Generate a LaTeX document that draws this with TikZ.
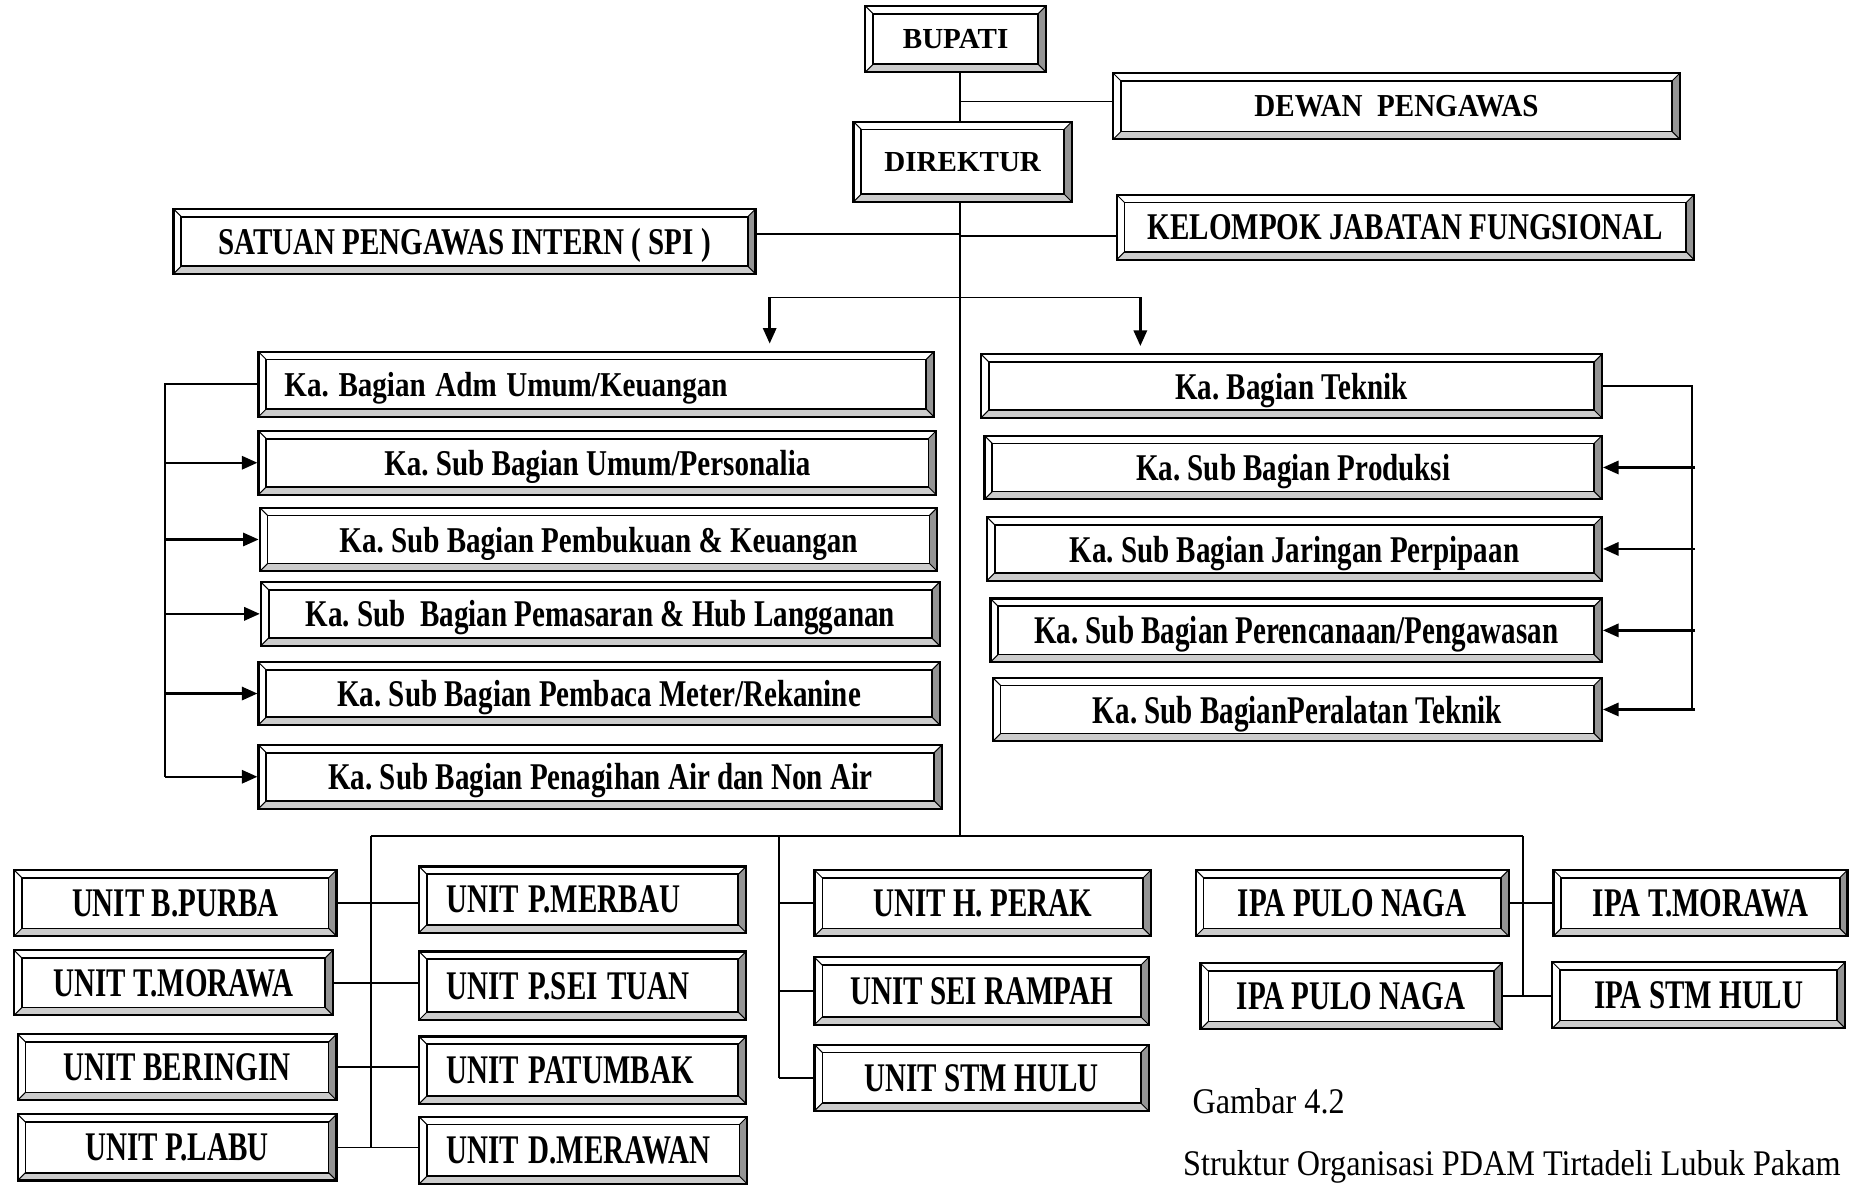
\documentclass[tikz,border=0pt]{standalone}
\usepackage{fontspec}
\usepackage{graphicx}
\setmainfont{Liberation Serif}
\usetikzlibrary{arrows.meta,calc}
\frenchspacing

\definecolor{bevR}{gray}{0.58}
\definecolor{bevB}{gray}{0.80}
\newcommand\boxfont{\fontsize{17.5}{20}\selectfont\bfseries}
\newcommand\capfont{\fontsize{19.4}{22}\selectfont}
\newcommand\bev{0.165cm}
% vertically stretched label text
\newcommand\vs[2][1.3]{\scalebox{1}[#1]{#2}}

% bevelled box given by its corners (x1,y1)-(x2,y2)
\newcommand\bx[7][]{%
  \pgfmathsetmacro\bxw{(#5-#3)*0.025}%
  \pgfmathsetmacro\bxh{(#6-#4)*0.025}%
  \node[bevelbox, minimum width=\bxw cm, minimum height=\bxh cm, #1]
    (#2) at ({(#3+#5)/2},{(#4+#6)/2}) {#7};}
% same, with left-aligned text set in by a lead
\newcommand\bxl[7]{%
  \pgfmathsetmacro\bxh{(#5-#3)*0.025}%
  \pgfmathsetmacro\bxtw{(#4-#2-2*#6)*0.025}%
  \pgfmathsetmacro\bxs{#6*0.025}%
  \node[bevelbox, minimum height=\bxh cm, text width=\bxtw cm,
        inner xsep=\bxs cm, align=left]
    (#1) at ({(#2+#4)/2},{(#3+#5)/2}) {#7};}

\tikzset{
  bevelbox/.style={draw, line width=1.3pt, fill=white, inner sep=0pt,
    text depth=0pt, font=\boxfont,
    path picture={
      \fill[bevR] (path picture bounding box.north east)
        -- (path picture bounding box.south east)
        -- ([shift={(-\bev,\bev)}]path picture bounding box.south east)
        -- ([shift={(-\bev,-\bev)}]path picture bounding box.north east) -- cycle;
      \fill[bevB] (path picture bounding box.south west)
        -- (path picture bounding box.south east)
        -- ([shift={(-\bev,\bev)}]path picture bounding box.south east)
        -- ([shift={(\bev,\bev)}]path picture bounding box.south west) -- cycle;
      \draw[line width=1pt]
        ([shift={(\bev,\bev)}]path picture bounding box.south west) rectangle
        ([shift={(-\bev,-\bev)}]path picture bounding box.north east);
      \draw[line width=0.6pt]
        (path picture bounding box.south west) -- ++(\bev,\bev)
        (path picture bounding box.south east) -- ++(-\bev,\bev)
        (path picture bounding box.north west) -- ++(\bev,-\bev)
        (path picture bounding box.north east) -- ++(-\bev,-\bev);
    }},
  conn/.style={line width=1.1pt},
  arr/.style={line width=1.5pt, -{Triangle[length=0.33cm,width=0.28cm]}},
  captext/.style={font=\capfont, inner sep=0pt, anchor=west, text depth=0pt}
}

\begin{document}
\begin{tikzpicture}[x=0.025cm, y=-0.025cm]
\fill[white] (0,0) rectangle (1568,1005);
\useasboundingbox (0,0) rectangle (1568,1005);

% ---------- top of the organisation ----------
\bx{bupati}{733}{5}{886}{61}{\vs[1.0]{BUPATI}}
\bx{direktur}{723}{103}{908}{171}{\vs[1.0]{DIREKTUR}}
\bx{dewan}{943}{62}{1423}{118}{\vs[1.1]{DEWAN\ \ PENGAWAS}}
\bx{kjf}{946}{165}{1435}{220}{\vs{KELOMPOK JABATAN FUNGSIONAL}}
\bx{spi}{147}{177}{640}{232}{\vs{SATUAN PENGAWAS INTERN ( SPI )}}

% ---------- administration branch ----------
\bxl{adm}{219}{298}{791}{353}{22}{\vs[1.2]{Ka. Bagian Adm Umum/Keuangan}}
\bx{sbumum}{219}{365}{793}{419}{\vs[1.25]{Ka. Sub Bagian Umum/Personalia}}
\bx{sbbuku}{220}{430}{794}{484}{\vs[1.25]{Ka. Sub Bagian Pembukuan \& Keuangan}}
\bx{sbpasar}{221}{493}{796}{547}{\vs{Ka. Sub\ \ Bagian Pemasaran \& Hub Langganan}}
\bx{sbmeter}{219}{561}{796}{614}{\vs{Ka. Sub Bagian Pembaca Meter/Rekanine}}
\bx{sbtagih}{219}{631}{798}{685}{\vs{Ka. Sub Bagian Penagihan Air dan Non Air}}

% ---------- technical branch ----------
\bx{teknik}{831}{300}{1357}{354}{\vs{Ka. Bagian Teknik}}
\bx{sbprod}{834}{369}{1357}{423}{\vs{Ka. Sub Bagian Produksi}}
\bx{sbjar}{836}{438}{1357}{492}{\vs{Ka. Sub Bagian Jaringan Perpipaan}}
\bx{sbren}{839}{507}{1357}{561}{\vs[1.35]{Ka. Sub Bagian Perencanaan/Pengawasan}}
\bx{sbalat}{841}{574}{1357}{628}{\vs[1.35]{Ka. Sub BagianPeralatan Teknik}}

% ---------- units ----------
\bx{ubpurba}{12}{737}{285}{793}{\vs[1.4]{UNIT B.PURBA}}
\bx{utmorawa}{12}{805}{282}{860}{\vs[1.4]{UNIT T.MORAWA}}
\bx{uberingin}{15}{876}{285}{932}{\vs[1.4]{UNIT BERINGIN}}
\bx{uplabu}{15}{944}{285}{1000}{\vs[1.4]{UNIT P.LABU}}
\bxl{upmerbau}{355}{734}{632}{790}{23}{\vs[1.4]{UNIT P.MERBAU}}
\bxl{upseituan}{355}{806}{632}{864}{23}{\vs[1.4]{UNIT P.SEI TUAN}}
\bxl{upatumbak}{355}{878}{632}{935}{23}{\vs[1.4]{UNIT PATUMBAK}}
\bxl{udmerawan}{355}{946}{633}{1003}{23}{\vs[1.4]{UNIT D.MERAWAN}}
\bx{uhperak}{690}{737}{975}{793}{\vs[1.4]{UNIT H. PERAK}}
\bx{useirampah}{690}{811}{973}{868}{\vs[1.4]{UNIT SEI RAMPAH}}
\bx{ustmhulu}{690}{885}{973}{941}{\vs[1.4]{UNIT STM HULU}}
\bx{ipapn}{1013}{737}{1278}{793}{\vs[1.4]{IPA PULO NAGA}}
\bx{ipatm}{1316}{737}{1565}{793}{\vs[1.4]{IPA T.MORAWA}}
\bx{ipapnb}{1017}{816}{1272}{872}{\vs[1.4]{IPA PULO NAGA}}
\bx{ipastm}{1315}{815}{1563}{871}{\vs[1.4]{IPA STM HULU}}

% ---------- caption ----------
\node[captext] (gambar) at (1010,933) {\vs[1.12]{Gambar 4.2}};
\node[captext] (judul) at (1002,985) {\vs[1.12]{Struktur Organisasi PDAM Tirtadeli Lubuk Pakam}};

% ---------- connectors ----------
\coordinate (sp) at (813,0);
\coordinate (dw) at (813,86);
\coordinate (spiL) at (813,198);
\coordinate (kjfL) at (813,200);
\coordinate (busL) at (652,252);
\coordinate (busR) at (966,252);
\coordinate (bot) at (813,708);
\coordinate (botL) at (314,708);
\coordinate (botM) at (660,708);
\coordinate (botR) at (1290,708);
\coordinate (lb) at (140,0);
\coordinate (rb) at (1433,0);
\coordinate (rbx) at (1436,0);

\draw[conn] (bupati.south -| sp) -- (direktur.north -| sp);
\draw[conn] (dw) -- (dw -| dewan.west);
\draw[conn] (direktur.south -| sp) -- (bot);
\draw[conn] (spiL) -- (spiL -| spi.east);
\draw[conn] (kjfL) -- (kjfL -| kjf.west);
\draw[conn] (busL) -- (busR);
\draw[arr, shorten >=0.15cm] (busL) -- (busL |- adm.north);
\draw[arr, shorten >=0.15cm] (busR) -- (busR |- teknik.north);

% administration bracket
\draw[conn] (adm.west) -- (adm.west -| lb) -- (sbtagih.west -| lb);
\foreach \n in {sbumum,sbbuku,sbpasar,sbmeter,sbtagih}
  \draw[arr] (\n.west -| lb) -- (\n.west);

% technical bracket
\draw[conn] (teknik.east) -- (teknik.east -| rb) -- (sbalat.east -| rb);
\foreach \n in {sbprod,sbjar,sbren,sbalat}
  \draw[arr] (\n.east -| rbx) -- (\n.east);

% unit buses
\draw[conn] (botL) -- (botR);
\draw[conn] (botL) -- (botL |- uplabu.east);
\draw[conn] (ubpurba.east) -- (ubpurba.east -| upmerbau.west);
\draw[conn] (utmorawa.east) -- (utmorawa.east -| upseituan.west);
\draw[conn] (uberingin.east) -- (uberingin.east -| upatumbak.west);
\draw[conn] (uplabu.east) -- (uplabu.east -| udmerawan.west);

\draw[conn] (botM) -- (botM |- ustmhulu.west);
\foreach \n in {uhperak,useirampah,ustmhulu}
  \draw[conn] (botM |- \n.west) -- (\n.west);

\draw[conn] (botR) -- (botR |- ipapnb.east);
\draw[conn] (ipapn.east) -- (ipapn.east -| ipatm.west);
\draw[conn] (ipapnb.east) -- (ipapnb.east -| ipastm.west);
\end{tikzpicture}
\end{document}
